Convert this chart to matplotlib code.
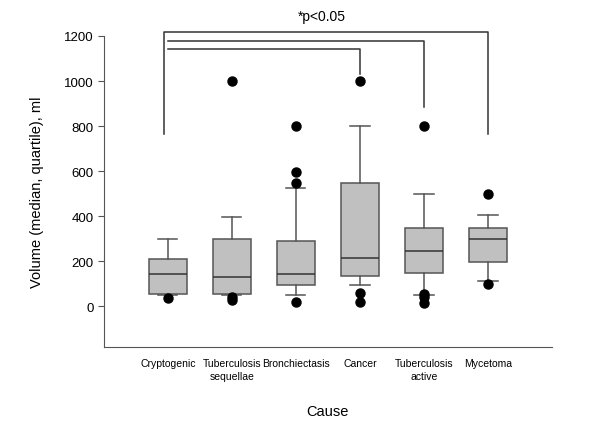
import matplotlib
matplotlib.use("Agg")
import matplotlib.pyplot as plt

plt.rcParams['font.family'] = ['Liberation Sans', 'DejaVu Sans']

#  Data (ml)
#  ################################################################
causes = ["Cryptogenic", "Tuberculosis\nsequellae", "Bronchiectasis",
          "Cancer", "Tuberculosis\nactive", "Mycetoma"]
q1 = [55, 56, 97, 133, 148, 198]
medians = [146, 131, 146, 217, 247, 298]
q3 = [209, 298, 291, 548, 347, 347]
whisker_low = [49, 49, 49, 97, 49, 114]
whisker_high = [298, 397, 527, 800, 499, 406]
outliers = [
    [37],
    [1000, 40, 30],
    [800, 598, 548, 18],
    [1000, 58, 18],
    [800, 53, 40, 15],
    [498, 99],
]

#  Significance brackets: (left, right, top level, right drop)
brackets = [
    (0.94, 6, 1217, 766),
    (1, 5, 1178, 885),
    (1, 4, 1143, 1032),
]

stats = []
for i in range(len(causes)):
    stats.append(dict(med=medians[i], q1=q1[i], q3=q3[i],
                      whislo=whisker_low[i], whishi=whisker_high[i],
                      fliers=outliers[i]))

fig = plt.figure(figsize=(6, 4.35), dpi=100)
ax = fig.add_axes([0.173, 0.2, 0.747, 0.715])

edge = "#555555"
ax.bxp(stats, positions=range(1, len(causes) + 1), widths=0.6,
       patch_artist=True, showcaps=True,
       boxprops=dict(facecolor="#c0c0c0", edgecolor=edge, linewidth=1.1),
       medianprops=dict(color="#333333", linewidth=1.1),
       whiskerprops=dict(color=edge, linewidth=1.1),
       capprops=dict(color=edge, linewidth=1.1),
       flierprops=dict(marker="o", markerfacecolor="black",
                       markeredgecolor="black", markersize=6.5))

# brackets on top, the outer one drops on both sides
for x0, x1, top, drop in brackets:
    left_drop = drop if x0 < 1 else top
    ax.plot([x0, x0, x1, x1], [left_drop, top, top, drop],
            color="#333333", linewidth=1.1, clip_on=False)

ax.text(3.4, 1290, "*p<0.05", ha="center", va="center", fontsize=10)

ax.set_xlim(0, 7)
ax.set_ylim(-180, 1200)
ax.set_yticks([0, 200, 400, 600, 800, 1000, 1200])
ax.set_xticks(range(1, len(causes) + 1))
ax.set_xticklabels(causes, fontsize=7.5, linespacing=1.3)
ax.tick_params(axis="x", length=0, pad=8)
ax.tick_params(axis="y", labelsize=9.5, length=4, color=edge)
for side in ["top", "right"]:
    ax.spines[side].set_visible(False)
for side in ["left", "bottom"]:
    ax.spines[side].set_color(edge)

ax.set_ylabel("Volume (median, quartile), ml", fontsize=10.5, labelpad=14)
ax.set_xlabel("Cause", fontsize=10.5, labelpad=17)

fig.savefig("out.png", dpi=100)
